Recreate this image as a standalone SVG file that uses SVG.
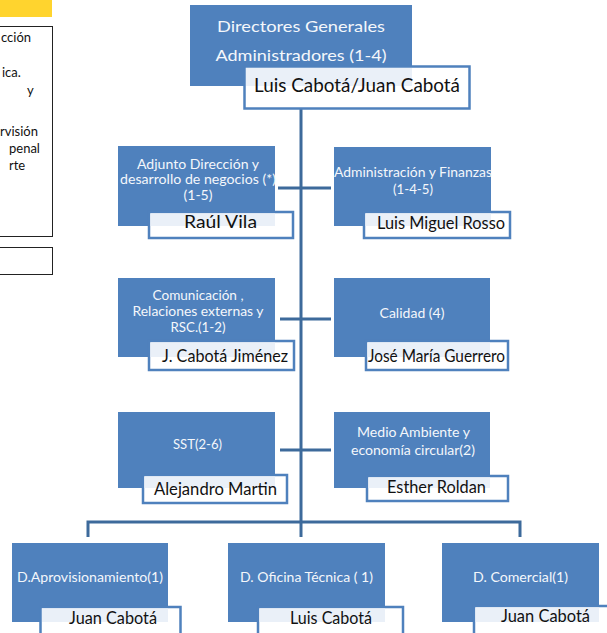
<svg xmlns="http://www.w3.org/2000/svg" width="607" height="633" viewBox="0 0 607 633">
<style>
.box{fill:#4f81bd}
.nm{fill:#ffffff;stroke:#4f81bd;stroke-width:2.5}
.tint{fill:#eaf0f8}
.t{font-family:Lato,"Open Sans","Liberation Sans",sans-serif;fill:#f4f7fb;text-anchor:middle}
.n{font-family:Lato,"Open Sans","Liberation Sans",sans-serif;fill:#111111;text-anchor:middle}
.c{fill:none;stroke:#3d6a9b;stroke-width:3}
.lp{font-family:Lato,"Open Sans","Liberation Sans",sans-serif;fill:#111111;font-size:13px}
</style>
<rect x="0" y="0" width="607" height="633" fill="#ffffff"/>
<g id="legend">
<rect x="0" y="0" width="52" height="17" fill="#ffd42e"/>
<rect x="-1" y="26.5" width="53.5" height="210" fill="none" stroke="#222" stroke-width="1"/>
<rect x="-1" y="247.5" width="53.5" height="27" fill="none" stroke="#222" stroke-width="1"/>
<text class="lp" x="1" y="42">cción</text>
<text class="lp" x="2" y="77">ica.</text>
<text class="lp" x="27" y="95">y</text>
<text class="lp" x="0" y="136">rvisión</text>
<text class="lp" x="9" y="153">penal</text>
<text class="lp" x="9" y="170">rte</text>
</g>
<g id="connectors">
<line class="c" x1="301" y1="108" x2="301" y2="522"/>
<line class="c" x1="278" y1="188" x2="331" y2="188"/>
<line class="c" x1="280" y1="319" x2="331" y2="319"/>
<line class="c" x1="280" y1="450" x2="331" y2="450"/>
<polyline class="c" points="88,537 88,522 520,522 520,537"/>
<line class="c" x1="301" y1="522" x2="301" y2="537"/>
</g>
<g id="n-directores">
<rect class="box" x="190" y="5" width="222" height="81"/>
<rect class="nm" x="244.5" y="66.5" width="225" height="42"/>
<rect class="tint" x="246" y="68" width="166" height="18"/>
<text class="t" x="301" y="32" font-size="16" textLength="168" lengthAdjust="spacingAndGlyphs">Directores  Generales</text>
<text class="t" x="301" y="61" font-size="16" textLength="171" lengthAdjust="spacingAndGlyphs">Administradores (1-4)</text>
<text class="n" x="357" y="92" font-size="20" textLength="206" lengthAdjust="spacingAndGlyphs">Luis Cabotá/Juan Cabotá</text>
</g>
<g id="n-adjunto">
<rect class="box" x="118" y="146" width="157" height="80"/>
<rect class="nm" x="149" y="212" width="144" height="26"/>
<rect class="tint" x="150.5" y="213.5" width="124.5" height="12.5"/>
<text class="t" x="198" y="169" font-size="13" textLength="122" lengthAdjust="spacingAndGlyphs">Adjunto Dirección y</text>
<text class="t" x="198" y="184" font-size="13" textLength="156" lengthAdjust="spacingAndGlyphs">desarrollo de negocios (*)</text>
<text class="t" x="198" y="200" font-size="13" textLength="29" lengthAdjust="spacingAndGlyphs">(1-5)</text>
<text class="n" x="220.5" y="228" font-size="17" textLength="73" lengthAdjust="spacingAndGlyphs">Raúl Vila</text>
</g>
<g id="n-admin">
<rect class="box" x="334" y="147" width="157" height="79"/>
<rect class="nm" x="364" y="212" width="146" height="26"/>
<rect class="tint" x="365.5" y="213.5" width="125.5" height="12.5"/>
<text class="t" x="413" y="177" font-size="13" textLength="158" lengthAdjust="spacingAndGlyphs">Administración y Finanzas</text>
<text class="t" x="413" y="194" font-size="13" textLength="40" lengthAdjust="spacingAndGlyphs">(1-4-5)</text>
<text class="n" x="441" y="229" font-size="17" textLength="128" lengthAdjust="spacingAndGlyphs">Luis Miguel Rosso</text>
</g>
<g id="n-comunicacion">
<rect class="box" x="118" y="278" width="157" height="79"/>
<rect class="nm" x="149" y="341" width="145" height="29"/>
<rect class="tint" x="150.5" y="342.5" width="124.5" height="14.5"/>
<text class="t" x="198" y="300" font-size="13" textLength="91" lengthAdjust="spacingAndGlyphs">Comunicación ,</text>
<text class="t" x="198" y="316" font-size="13" textLength="131" lengthAdjust="spacingAndGlyphs">Relaciones externas y</text>
<text class="t" x="198" y="332" font-size="13" textLength="55" lengthAdjust="spacingAndGlyphs">RSC.(1-2)</text>
<text class="n" x="225" y="362" font-size="17" textLength="126" lengthAdjust="spacingAndGlyphs">J. Cabotá Jiménez</text>
</g>
<g id="n-calidad">
<rect class="box" x="334" y="278" width="156" height="79"/>
<rect class="nm" x="366" y="341" width="142" height="29"/>
<rect class="tint" x="367.5" y="342.5" width="122.5" height="14.5"/>
<text class="t" x="412" y="318" font-size="13" textLength="65" lengthAdjust="spacingAndGlyphs">Calidad (4)</text>
<text class="n" x="436.5" y="362" font-size="17" textLength="137" lengthAdjust="spacingAndGlyphs">José María Guerrero</text>
</g>
<g id="n-sst">
<rect class="box" x="118" y="412" width="157" height="76"/>
<rect class="nm" x="143" y="475" width="144" height="28"/>
<rect class="tint" x="144.5" y="476.5" width="130.5" height="11.5"/>
<text class="t" x="197.5" y="449" font-size="13" textLength="49" lengthAdjust="spacingAndGlyphs">SST(2-6)</text>
<text class="n" x="215.5" y="495" font-size="17" textLength="123" lengthAdjust="spacingAndGlyphs">Alejandro Martin</text>
</g>
<g id="n-medio">
<rect class="box" x="334" y="412" width="156" height="76"/>
<rect class="nm" x="367" y="476" width="141" height="25"/>
<rect class="tint" x="368.5" y="477.5" width="121.5" height="10.5"/>
<text class="t" x="413.5" y="437" font-size="13" textLength="113" lengthAdjust="spacingAndGlyphs">Medio Ambiente y</text>
<text class="t" x="413" y="455" font-size="13" textLength="124" lengthAdjust="spacingAndGlyphs">economía circular(2)</text>
<text class="n" x="436.5" y="493" font-size="17" textLength="99" lengthAdjust="spacingAndGlyphs">Esther Roldan</text>
</g>
<g id="n-aprovisionamiento">
<rect class="box" x="12" y="543" width="156" height="79"/>
<rect class="nm" x="40.5" y="607" width="140" height="30"/>
<rect class="tint" x="42" y="608.5" width="126" height="13.5"/>
<text class="t" x="90" y="582" font-size="14" textLength="146" lengthAdjust="spacingAndGlyphs">D.Aprovisionamiento(1)</text>
<text class="n" x="113" y="624" font-size="17" textLength="88" lengthAdjust="spacingAndGlyphs">Juan Cabotá</text>
</g>
<g id="n-oficina">
<rect class="box" x="228" y="543" width="157" height="79"/>
<rect class="nm" x="258" y="607" width="145" height="30"/>
<rect class="tint" x="259.5" y="608.5" width="125.5" height="13.5"/>
<text class="t" x="306.5" y="582" font-size="14" textLength="133" lengthAdjust="spacingAndGlyphs">D. Oficina Técnica ( 1)</text>
<text class="n" x="331" y="624" font-size="17" textLength="82" lengthAdjust="spacingAndGlyphs">Luis Cabotá</text>
</g>
<g id="n-comercial">
<rect class="box" x="442" y="543" width="157" height="79"/>
<rect class="nm" x="474" y="606" width="140" height="30"/>
<rect class="tint" x="475.5" y="607.5" width="123.5" height="14.5"/>
<text class="t" x="520.5" y="582" font-size="14" textLength="95" lengthAdjust="spacingAndGlyphs">D. Comercial(1)</text>
<text class="n" x="545.5" y="622" font-size="17" textLength="89" lengthAdjust="spacingAndGlyphs">Juan Cabotá</text>
</g>
</svg>
